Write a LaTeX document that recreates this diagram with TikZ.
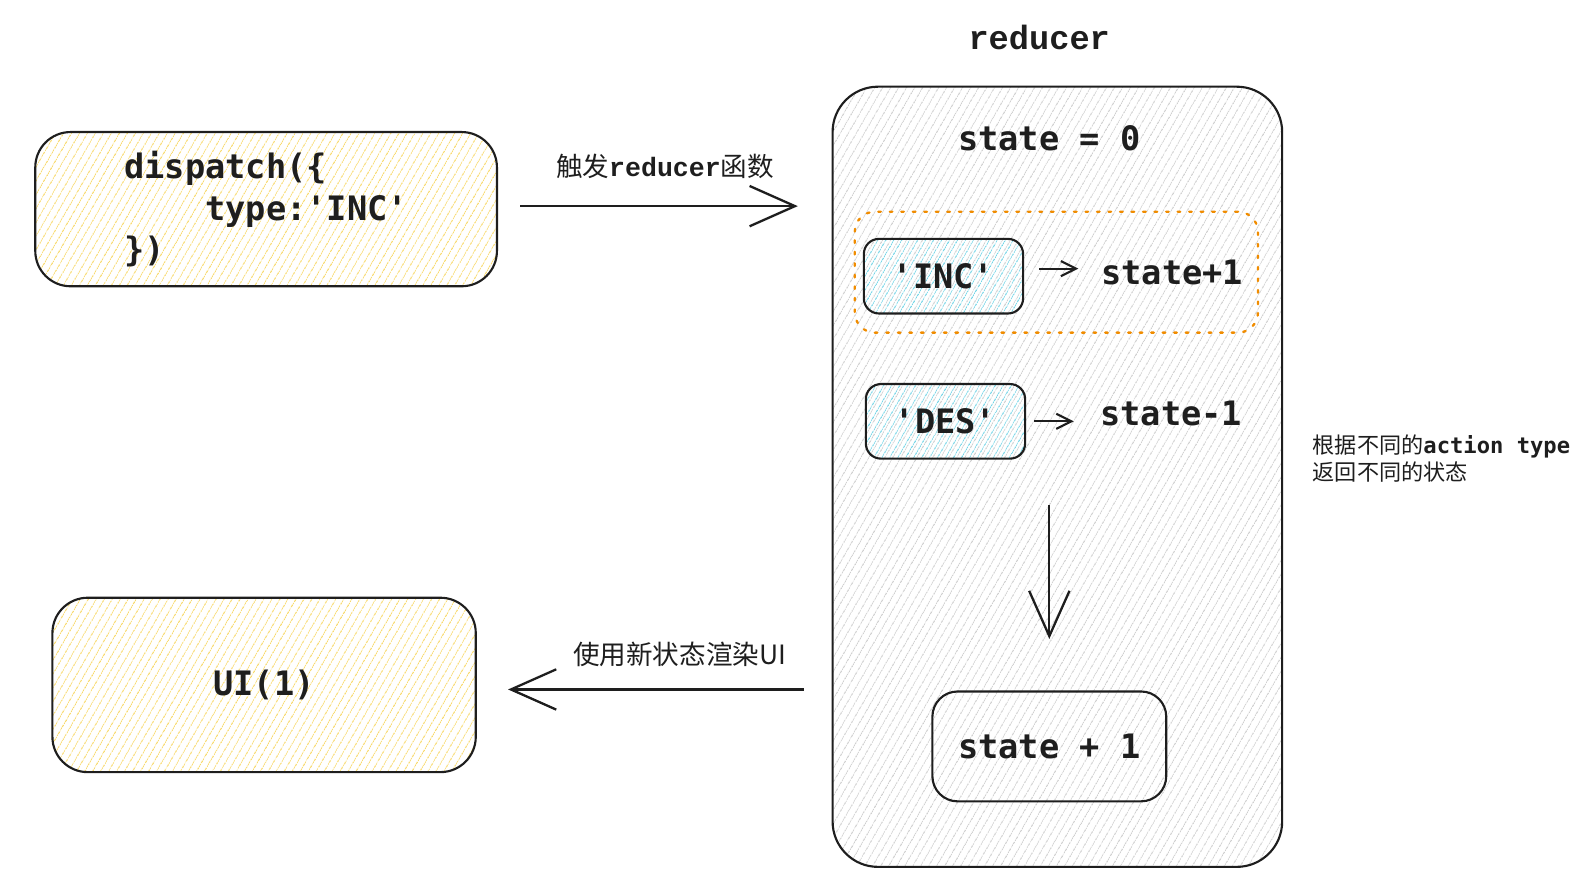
\documentclass[tikz,border=0pt]{standalone}
\usepackage{fontspec}
\setmonofont{DejaVu Sans Mono}
\newfontfamily\cjk{Noto Sans CJK SC}
\newfontfamily\slabmono{Liberation Mono}
\usetikzlibrary{arrows.meta,patterns.meta,calc}

\definecolor{hatchyellow}{HTML}{F8D96A}
\definecolor{hatchcyan}{HTML}{72D4E6}
\definecolor{hatchgray}{HTML}{CFCFCF}
\definecolor{ink}{HTML}{1E1E1E}
\definecolor{dotorange}{HTML}{F08C00}

\tikzset{
    sketchbox/.style={draw=ink, line width=1.2pt, rounded corners=#1},
    sketchbox/.default=0.6cm,
    hatch/.style={pattern={Lines[angle=60,distance=4pt,line width=0.6pt]}, pattern color=#1},
    codetext/.style={font=\ttfamily\bfseries\fontsize{19}{23.5}\selectfont, text=ink},
    arr/.style={draw=ink, line width=1.3pt, -{Straight Barb[length=0.9cm, width=0.8cm, line width=1.3pt]}},
    smallarr/.style={draw=ink, line width=1.2pt, -{Straight Barb[length=0.3cm, width=0.3cm, line width=1.2pt]}},
}

\begin{document}
\begin{tikzpicture}
    \useasboundingbox (0,0) rectangle (31.31,-17.58);

    % reducer column
    \node[sketchbox=0.9cm, hatch=hatchgray, minimum width=8.92cm, minimum height=15.48cm]
        (red) at (20.98,-9.46) {};
    \node[font=\slabmono\bfseries\fontsize{19}{23}\selectfont, text=ink] (redtitle) at (20.62,-0.74) {reducer};
    \node[codetext] (init) at (20.82,-2.74) {state = 0};

    \node[draw=dotorange, line width=1.3pt, dash pattern=on 1.5pt off 5pt, line cap=round,
          rounded corners=0.4cm, minimum width=8cm, minimum height=2.4cm] (hit) at (20.96,-5.4) {};
    \node[sketchbox=0.3cm, hatch=hatchcyan, codetext, minimum width=3.16cm, minimum height=1.48cm]
        (inc) at (18.72,-5.48) {'INC'};
    \node[codetext, inner sep=0pt] (sp1) at (23.26,-5.4) {state+1};
    \node[sketchbox=0.3cm, hatch=hatchcyan, codetext, minimum width=3.16cm, minimum height=1.48cm]
        (des) at (18.76,-8.36) {'DES'};
    \node[codetext, inner sep=0pt] (sm1) at (23.24,-8.2) {state-1};

    \node[sketchbox=0.5cm, codetext, minimum width=4.64cm, minimum height=2.18cm]
        (res) at (20.82,-14.81) {state + 1};

    \draw[smallarr, shorten <=0.3cm, shorten >=0.45cm] ($(inc.east)+(0,0.15)$) -- ($(inc.east -| sp1.west)+(0,0.15)$);
    \draw[smallarr, shorten <=0.16cm, shorten >=0.52cm] (des.east) -- (des.east -| sm1.west);
    \draw[arr, shorten <=0.9cm, shorten >=1.02cm] (des.south -| res.north) -- (res.north);

    % left side
    \node[sketchbox=0.7cm, hatch=hatchyellow, codetext, align=left, minimum width=9.16cm, minimum height=3.06cm]
        (disp) at (5.28,-4.15) {dispatch(\{\\\phantom{dddd}type:'INC'\\\})};
    \node[sketchbox=0.7cm, hatch=hatchyellow, codetext, minimum width=8.4cm, minimum height=3.46cm]
        (ui) at (5.24,-13.59) {UI(1)};

    \draw[arr, shorten <=0.44cm, shorten >=0.68cm] ($(disp.east)+(0,0.06)$) -- ($(disp.east -| red.west)+(0,0.06)$)
        node[midway, above=0.4cm, font=\fontsize{15}{18}\selectfont, text=ink]
        {{\cjk 触发}{\slabmono\bfseries reducer}{\cjk 函数}};
    \draw[arr, shorten <=0.56cm, shorten >=0.62cm] ($(ui.east -| red.west)+(0,-0.09)$) -- ($(ui.east)+(0,-0.09)$)
        node[midway, above=0.32cm, xshift=0.5cm, font=\cjk\fontsize{15}{18}\selectfont, text=ink]
        {使用新状态渲染UI};

    % note
    \node[anchor=west, align=left, text=ink, font=\fontsize{12.5}{15.5}\selectfont, inner sep=0pt]
        (note) at (26.04,-9.1)
        {{\cjk 根据不同的}{\ttfamily\bfseries action type}\\{\cjk 返回不同的状态}};
\end{tikzpicture}
\end{document}
